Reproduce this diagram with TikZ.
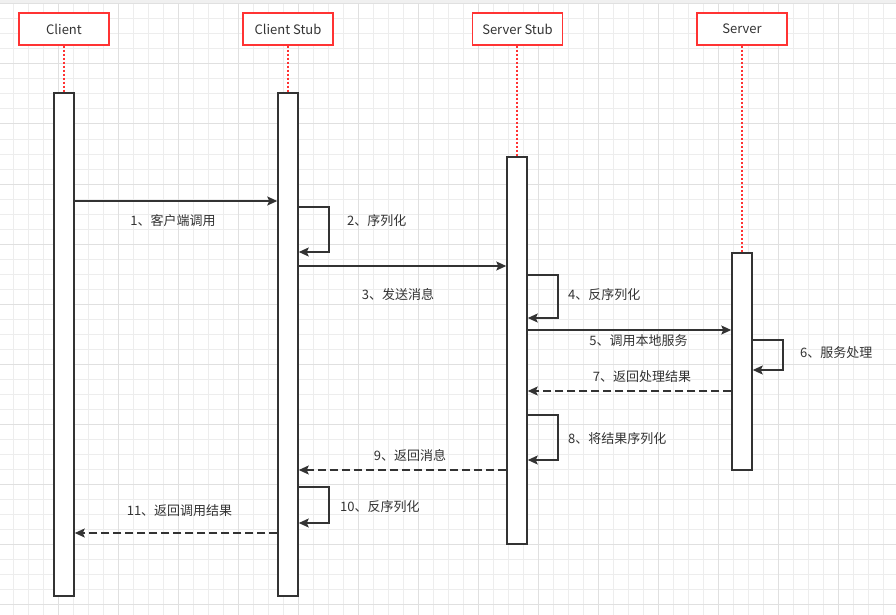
\documentclass[tikz,border=0pt]{standalone}
\usepackage{fontspec}
\setmainfont{Noto Sans CJK SC}
\usetikzlibrary{arrows.meta}
\definecolor{ink}{HTML}{333333}
\definecolor{redline}{HTML}{FF3333}
\definecolor{gridminor}{HTML}{EDEDED}
\definecolor{gridmajor}{HTML}{E0E0E0}
\definecolor{topband}{HTML}{F0F0F0}
\begin{document}
\begin{tikzpicture}[x=1pt,y=-1pt,
  header/.style={draw=redline, line width=1.5pt, fill=white, minimum width=90pt, minimum height=32pt, inner sep=0pt, text=ink, font=\fontsize{13pt}{15pt}\selectfont},
  actbox/.style={draw=ink, line width=1.5pt, fill=white, minimum width=20pt, inner sep=0pt},
  lifeline/.style={draw=redline, line width=1.5pt, dash pattern=on 2pt off 2pt},
  msg/.style={draw=ink, line width=1.5pt, -{Stealth[length=10pt,width=9pt,inset=2pt]}},
  reply/.style={msg, dash pattern=on 8pt off 4pt},
  lbl/.style={text=ink, inner sep=0pt, font=\fontsize{13pt}{15pt}\selectfont}
]
\useasboundingbox (0,0) rectangle (896,615);
\fill[white] (0,0) rectangle (896,615);
% grid
\foreach \k in {0,...,59} { \draw[gridminor, line width=1pt] ({13.333+15*\k},0) -- ({13.333+15*\k},615); }
\foreach \k in {0,...,40} { \draw[gridminor, line width=1pt] (0,{4+15*\k}) -- (896,{4+15*\k}); }
\foreach \k in {-1,...,14} { \draw[gridmajor, line width=1pt] ({58.333+60*\k},0) -- ({58.333+60*\k},615); }
\foreach \k in {0,...,10} { \draw[gridmajor, line width=1pt] (0,{4+60*\k}) -- (896,{4+60*\k}); }
\fill[topband] (0,0) rectangle (896,3.5);

% headers
\node[header] (h1) at (64,29) {Client};
\node[header] (h2) at (288,29) {Client Stub};
\node[header] (h3) at (517.5,29) {Server Stub};
\node[header] (h4) at (742,29) {Server};

% activation boxes
\node[actbox, minimum height=503pt] (ca) at (64,344.5) {};
\node[actbox, minimum height=503pt] (cs) at (288,344.5) {};
\node[actbox, minimum height=387pt] (ss) at (517,350.5) {};
\node[actbox, minimum height=217pt] (sv) at (742,361.5) {};

% lifelines
\draw[lifeline] (h1.south) -- (ca.north);
\draw[lifeline] (h2.south) -- (cs.north);
\draw[lifeline] (h3.south -| ss.north) -- (ss.north);
\draw[lifeline] (h4.south) -- (sv.north);

% messages
\draw[msg] (ca.east |- 0,201) -- (cs.west |- 0,201);
\node[lbl] (l1) at (173,221) {1、客户端调用};

\draw[msg] (cs.east |- 0,207) -- ++(30,0) |- (cs.east |- 0,252);
\node[lbl, anchor=west] (l2) at (347,221) {2、序列化};

\draw[msg] (cs.east |- 0,266) -- (ss.west |- 0,266);
\node[lbl] (l3) at (398,295) {3、发送消息};

\draw[msg] (ss.east |- 0,275) -- ++(30,0) |- (ss.east |- 0,318);
\node[lbl, anchor=west] (l4) at (568,295) {4、反序列化};

\draw[msg] (ss.east |- 0,330) -- (sv.west |- 0,330);
\node[lbl] (l5) at (638.5,341) {5、调用本地服务};

\draw[msg] (sv.east |- 0,340) -- ++(30,0) |- (sv.east |- 0,370);
\node[lbl, anchor=west] (l6) at (800,352.5) {6、服务处理};

\draw[reply] (sv.west |- 0,391) -- (ss.east |- 0,391);
\node[lbl] (l7) at (642,377) {7、返回处理结果};

\draw[msg] (ss.east |- 0,415) -- ++(30,0) |- (ss.east |- 0,460);
\node[lbl, anchor=west] (l8) at (568,439) {8、将结果序列化};

\draw[reply] (ss.west |- 0,470) -- (cs.east |- 0,470);
\node[lbl] (l9) at (410,455) {9、返回消息};

\draw[msg] (cs.east |- 0,487) -- ++(30,0) |- (cs.east |- 0,523);
\node[lbl, anchor=west] (l10) at (340,506.5) {10、反序列化};

\draw[reply] (cs.west |- 0,533) -- (ca.east |- 0,533);
\node[lbl] (l11) at (179.5,510.5) {11、返回调用结果};
\end{tikzpicture}
\end{document}
